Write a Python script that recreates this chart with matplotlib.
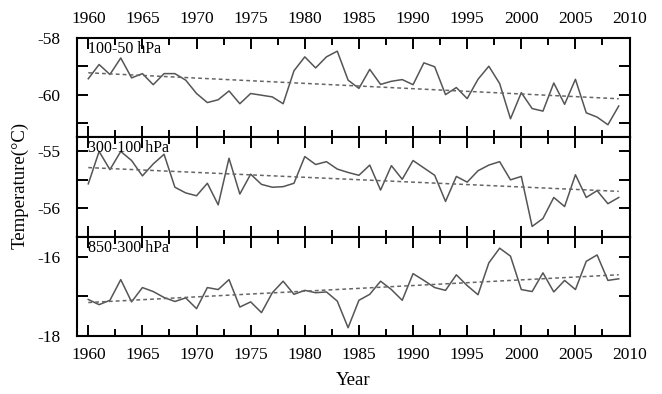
import numpy as np
import matplotlib.pyplot as plt
from matplotlib.ticker import MultipleLocator

plt.rcParams['font.family'] = ['Liberation Serif', 'DejaVu Serif']

years = np.arange(1960, 2010)

# 100-50 hPa layer mean temperature
t_100_50 = [-59.44, -58.94, -59.29, -58.71, -59.41, -59.26, -59.65, -59.26, -59.26, -59.49,
            -59.96, -60.28, -60.18, -59.87, -60.32, -59.96, -60.02, -60.08, -60.32, -59.16,
            -58.67, -59.06, -58.67, -58.47, -59.49, -59.78, -59.11, -59.64, -59.53, -59.47,
            -59.65, -58.88, -59.02, -60.00, -59.75, -60.14, -59.46, -59.00, -59.61, -60.85,
            -59.93, -60.49, -60.58, -59.59, -60.34, -59.46, -60.64, -60.79, -61.06, -60.40]

# 300-100 hPa
t_300_100 = [-55.57, -55.00, -55.32, -55.00, -55.16, -55.43, -55.22, -55.05, -55.63, -55.73,
             -55.78, -55.56, -55.94, -55.12, -55.75, -55.40, -55.58, -55.63, -55.62, -55.56,
             -55.09, -55.23, -55.18, -55.31, -55.37, -55.42, -55.24, -55.68, -55.25, -55.49,
             -55.16, -55.29, -55.42, -55.88, -55.44, -55.54, -55.34, -55.24, -55.18, -55.50,
             -55.44, -56.32, -56.18, -55.81, -55.97, -55.41, -55.81, -55.69, -55.92, -55.81]

# 850-300 hPa
t_850_300 = [-17.08, -17.21, -17.10, -16.58, -17.14, -16.78, -16.88, -17.03, -17.13, -17.04,
             -17.31, -16.78, -16.83, -16.58, -17.27, -17.14, -17.41, -16.91, -16.62, -16.95,
             -16.85, -16.91, -16.89, -17.12, -17.79, -17.10, -16.95, -16.62, -16.83, -17.10,
             -16.43, -16.60, -16.78, -16.85, -16.46, -16.73, -16.96, -16.16, -15.79, -15.99,
             -16.83, -16.88, -16.41, -16.89, -16.60, -16.83, -16.12, -15.96, -16.60, -16.56]

layers = ['100-50 hPa', '300-100 hPa', '850-300 hPa']
series = [t_100_50, t_300_100, t_850_300]
ylims = [(-61.5, -58.0), (-56.5, -54.75), (-18.0, -15.5)]
yticks = [[-61, -60, -59, -58], [-56, -55.5, -55], [-18, -17, -16]]
ylabels = [['', '-60', '', '-58'], ['-56', '', '-55'], ['-18', '', '-16']]

fig, axes = plt.subplots(3, 1, figsize=(6.62, 3.94), dpi=100, sharex=True)
fig.subplots_adjust(left=0.117, right=0.951, top=0.904, bottom=0.147, hspace=0)

for i, ax in enumerate(axes):
    vals = np.array(series[i])
    ax.plot(years, vals, color='#555555', lw=1.1)
    # linear trend
    k, b = np.polyfit(years, vals, 1)
    ax.plot(years, k * years + b, color='#666666', lw=1.1, ls=(0, (2.5, 2)))
    ax.set_xlim(1959, 2010)
    ax.set_ylim(*ylims[i])
    ax.set_yticks(yticks[i])
    ax.set_yticklabels(ylabels[i])
    ax.xaxis.set_major_locator(MultipleLocator(5))
    ax.xaxis.set_minor_locator(MultipleLocator(2.5))
    ax.tick_params(which='both', direction='in', top=True, right=True, width=1.4, labelsize=12.5)
    ax.tick_params(which='major', length=8)
    ax.tick_params(which='minor', length=5)
    ax.tick_params(axis='x', which='major', pad=8, labelbottom=(i == 2), labeltop=(i == 0))
    ax.tick_params(axis='y', which='major', pad=12)
    for s in ax.spines.values():
        s.set_linewidth(1.5)
    ax.text(0.02, 0.97, layers[i], transform=ax.transAxes, ha='left', va='top', fontsize=11.5)

axes[2].set_xlabel('Year', fontsize=13.5, labelpad=6)
fig.text(0.03, 0.53, 'Temperature(°C)', rotation=90, ha='center', va='center', fontsize=13.5)

fig.savefig('out.png', dpi=100)
